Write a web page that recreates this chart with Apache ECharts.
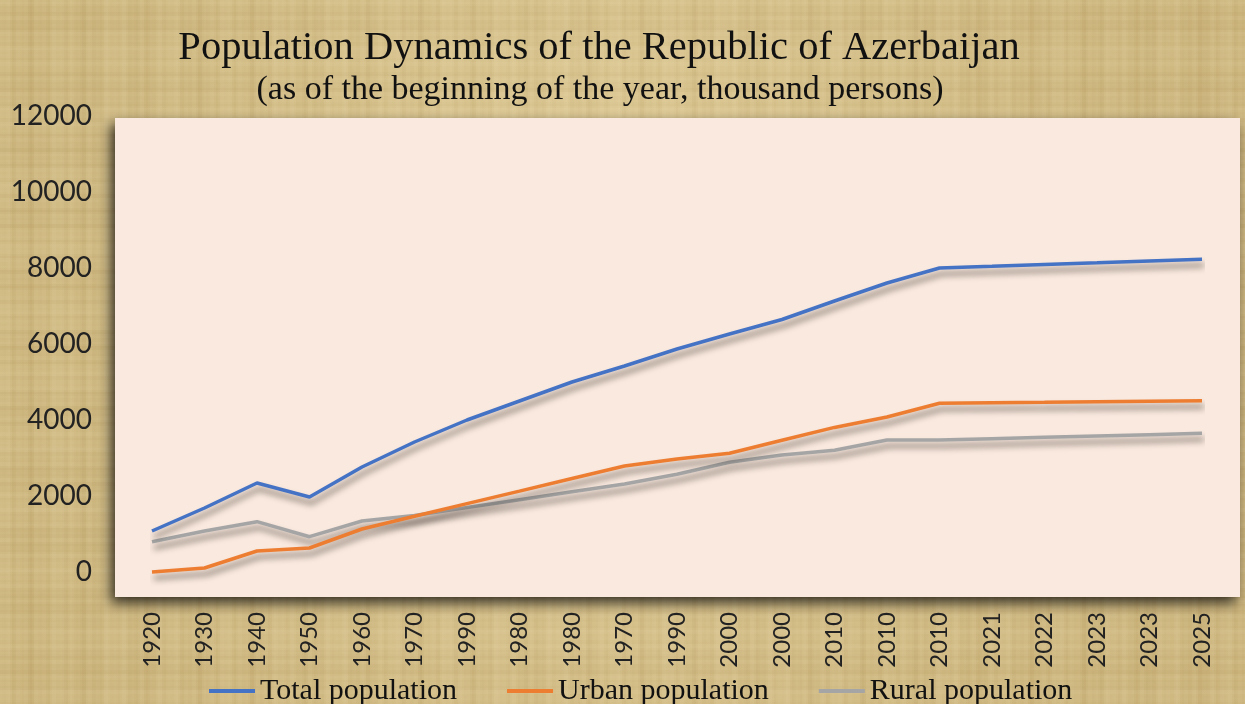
<!DOCTYPE html>
<html>
<head>
<meta charset="utf-8">
<script src="https://cdn.jsdelivr.net/npm/echarts@6/dist/echarts.min.js"></script>
<style>
html,body{margin:0;padding:0;}
#chart{width:1245px;height:704px;}
</style>
</head>
<body>
<div id="chart"></div>
<script>
// ---- data ----
const categories = ['1920','1930','1940','1950','1960','1970','1990','1980','1980','1970','1990','2000','2000','2010','2010','2010','2021','2022','2023','2023','2025'];
const totalPopulation = [1079,1684,2342,1974,2763,3421,4000,4500,5000,5421,5868,6263,6645,7132,7605,8000,8045,8092,8137,8184,8229];
const urbanPopulation = [0,105,553,632,1132,1468,1800,2129,2461,2789,2974,3124,3466,3805,4079,4439,4453,4466,4482,4495,4508];
const ruralPopulation = [797,1079,1324,929,1342,1487,1695,1903,2111,2318,2571,2887,3079,3203,3474,3474,3508,3545,3579,3613,3650];
const yTicks = {min: 0, max: 12000, interval: 2000};
const seriesNames = ['Total population','Urban population','Rural population'];
const titleText = 'Population Dynamics of the Republic of Azerbaijan';
const subtitleText = '(as of the beginning of the year, thousand persons)';

// ---- parchment texture (deterministic) ----
function makeTexture(){
  const c = document.createElement('canvas');
  c.width = 1245; c.height = 704;
  const g = c.getContext('2d');
  g.fillStyle = '#dbc690';
  g.fillRect(0,0,c.width,c.height);
  for (let x = 0; x < c.width; x += 2) {
    const v = Math.sin(x*0.37)+Math.sin(x*0.113+1.3)+Math.sin(x*0.71+2.1);
    const a = Math.abs(v)/3*0.22;
    g.fillStyle = v > 0 ? 'rgba(245,232,190,'+a+')' : 'rgba(170,140,80,'+a+')';
    g.fillRect(x,0,2,c.height);
  }
  for (let y = 0; y < c.height; y += 2) {
    const v = Math.sin(y*0.41+0.5)+Math.sin(y*0.097+2.7)+Math.sin(y*0.83);
    const a = Math.abs(v)/3*0.18;
    g.fillStyle = v > 0 ? 'rgba(245,232,190,'+a+')' : 'rgba(170,140,80,'+a+')';
    g.fillRect(0,y,c.width,2);
  }
  const rg = g.createRadialGradient(600,300,50,600,300,700);
  rg.addColorStop(0,'rgba(240,225,180,0.35)');
  rg.addColorStop(1,'rgba(150,120,60,0.18)');
  g.fillStyle = rg;
  g.fillRect(0,0,c.width,c.height);
  return c.toDataURL();
}
document.getElementById('chart').style.backgroundImage = 'url(' + makeTexture() + ')';

const chart = echarts.init(document.getElementById('chart'), null, {renderer:'canvas'});
const lineShadow = {shadowColor:'rgba(40,30,20,0.55)', shadowBlur:6, shadowOffsetX:2, shadowOffsetY:6};
const colors = ['#4472C4','#ED7D31','#A5A5A5'];
const valueSets = [totalPopulation, urbanPopulation, ruralPopulation];

chart.setOption({
  backgroundColor: 'transparent',
  animation: false,
  title: [
    {text: titleText, left: 594, top: 23, textAlign: 'center',
     textStyle: {fontFamily: 'Liberation Serif', fontSize: 40.5, fontWeight: 'normal', color: '#111'}},
    {text: subtitleText, left: 595, top: 68, textAlign: 'center',
     textStyle: {fontFamily: 'Liberation Serif', fontSize: 34, fontWeight: 'normal', color: '#111'}}
  ],
  graphic: [{
    type: 'rect', z: 0, silent: true,
    shape: {x: 115, y: 118, width: 1125, height: 479},
    style: {fill: '#f9e9df', shadowBlur: 12, shadowColor: 'rgba(0,0,0,0.75)', shadowOffsetX: -4, shadowOffsetY: 6}
  }],
  legend: {
    data: seriesNames, left: 204, top: 671,
    icon: 'rect', itemWidth: 46, itemHeight: 4, itemGap: 50,
    textStyle: {fontFamily: 'Liberation Serif', fontSize: 30, color: '#111'}
  },
  grid: {left: 152, right: 43, top: 116, bottom: 132, containLabel: false},
  xAxis: {
    type: 'category', data: categories, boundaryGap: false,
    axisLine: {show: false}, axisTick: {show: false}, splitLine: {show: false},
    axisLabel: {rotate: 90, interval: 0, margin: 40, fontFamily: 'Lato', fontSize: 24, color: '#222'}
  },
  yAxis: {
    type: 'value', min: yTicks.min, max: yTicks.max, interval: yTicks.interval,
    axisLine: {show: false}, axisTick: {show: false}, splitLine: {show: false},
    axisLabel: {margin: 60, fontFamily: 'Lato', fontSize: 28, color: '#222', formatter: v => String(v)}
  },
  series: seriesNames.map((n, i) => ({
    name: n, type: 'line', data: valueSets[i], symbol: 'none', clip: false, z: 3 - i,
    itemStyle: {color: colors[i]},
    lineStyle: Object.assign({color: colors[i], width: 3.5}, lineShadow)
  }))
});
</script>
</body>
</html>
